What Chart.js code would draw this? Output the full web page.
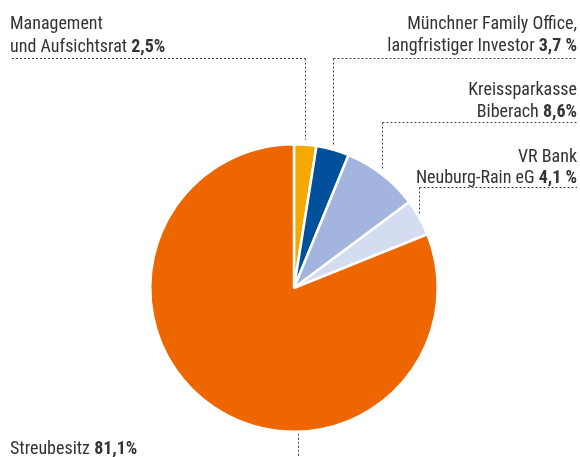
<!DOCTYPE html>
<html><head><meta charset="utf-8">
<script src="https://cdn.jsdelivr.net/npm/chart.js@4.4.1/dist/chart.umd.min.js"></script>
<style>html,body{margin:0;padding:0;background:#fff}canvas{display:block}</style>
</head><body>
<canvas id="c" width="580" height="457"></canvas>
<script>
const categories = ["Management und Aufsichtsrat", "Münchner Family Office, langfristiger Investor", "Kreissparkasse Biberach", "VR Bank Neuburg-Rain eG", "Streubesitz"];
const labelLines = [["Management", "und Aufsichtsrat "], ["Münchner Family Office,", "langfristiger Investor "], ["Kreissparkasse", "Biberach "], ["VR Bank", "Neuburg-Rain eG "], ["Streubesitz "]];
const shares = [2.5, 3.7, 8.6, 4.1, 81.1];
const valueLabels = ["2,5%", "3,7 %", "8,6%", "4,1 %", "81,1%"];
const colors = ["#F5A800", "#00509B", "#A3B5DE", "#D3DCF0", "#EE6600"];

const FONT = '"Roboto Condensed", "DejaVu Sans Condensed", sans-serif';
const FS = 18;
const layout = [
  {align:'left', x:10, base:[29,52], hy:58, hx:[12,null]},
  {align:'right', x:577, base:[29,51], hy:58, hx:[null,577]},
  {align:'right', x:577, base:[95,117], hy:122, hx:[null,577]},
  {align:'right', x:577, base:[162,183], hy:187, hx:[null,577]},
  {align:'left', x:10, base:[454], bottom:true}
];

const labelPlugin = {
  id:'labels',
  afterDraw(chart){
    const ctx = chart.ctx;
    const meta = chart.getDatasetMeta(0);
    ctx.save();
    ctx.fillStyle = '#333';
    ctx.textBaseline = 'alphabetic';
    meta.data.forEach((arc, i) => {
      const L = layout[i];
      const p = arc.getProps(['x','y','startAngle','endAngle','outerRadius'], true);
      const lines = labelLines[i];
      lines.forEach((t, j) => {
        const isLast = j === lines.length - 1;
        const y = L.base[j];
        ctx.font = FS + 'px ' + FONT;
        if (!isLast) {
          ctx.textAlign = L.align;
          ctx.fillText(t, L.x, y);
        } else {
          const w1 = ctx.measureText(t).width;
          ctx.font = 'bold ' + FS + 'px ' + FONT;
          const w2 = ctx.measureText(valueLabels[i]).width;
          let sx = L.align === 'left' ? L.x : L.x - w1 - w2;
          ctx.textAlign = 'left';
          ctx.font = FS + 'px ' + FONT;
          ctx.fillText(t, sx, y);
          ctx.font = 'bold ' + FS + 'px ' + FONT;
          ctx.fillText(valueLabels[i], sx + w1, y);
        }
      });
      ctx.strokeStyle = '#444';
      ctx.lineWidth = 1;
      ctx.setLineDash([2,2]);
      ctx.beginPath();
      if (L.bottom) {
        const vx = Math.round(p.x) + 4.5;
        ctx.moveTo(vx, p.y + p.outerRadius + 2);
        ctx.lineTo(vx, 457);
      } else {
        const mid = (p.startAngle + p.endAngle) / 2;
        const vx = Math.round(p.x + p.outerRadius * Math.cos(mid)) + 0.5;
        const vy = p.y + (p.outerRadius + 5) * Math.sin(mid);
        const hy = L.hy + 0.5;
        const x0 = L.hx[0] !== null ? L.hx[0] : vx;
        const x1 = L.hx[1] !== null ? L.hx[1] : vx;
        ctx.moveTo(x0, hy); ctx.lineTo(x1, hy);
        ctx.moveTo(vx, hy); ctx.lineTo(vx, vy);
      }
      ctx.stroke();
    });
    ctx.restore();
  }
};

new Chart(document.getElementById('c'), {
  type: 'pie',
  data: {
    labels: categories,
    datasets: [{
      data: shares,
      backgroundColor: colors,
      borderColor: '#ffffff',
      borderWidth: 2.5
    }]
  },
  options: {
    responsive: false,
    animation: false,
    layout: {padding: {left: 149, right: 141, top: 143, bottom: 24}},
    plugins: {legend: {display: false}, tooltip: {enabled: false}}
  },
  plugins: [labelPlugin]
});
</script>
</body></html>
